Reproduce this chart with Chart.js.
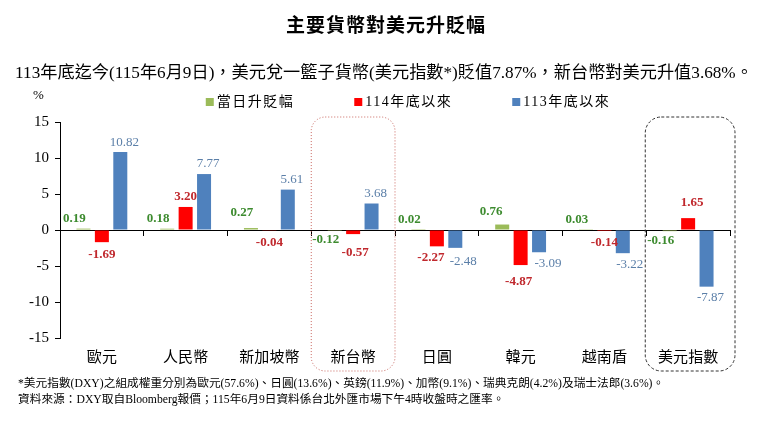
<!DOCTYPE html>
<html>
<head>
<meta charset="utf-8">
<script src="https://cdn.jsdelivr.net/npm/chart.js@4.4.1/dist/chart.umd.min.js"></script>
<style>
    html, body { margin: 0; padding: 0; background: #fff; }
    canvas { display: block; }
</style>
</head>
<body>
<canvas id="chart" width="768" height="432"></canvas>
<script>
    var categories = ["歐元", "人民幣", "新加坡幣", "新台幣", "日圓", "韓元", "越南盾", "美元指數"];
    var seriesNames = ["當日升貶幅", "114年底以來", "113年底以來"];
    var dailyChange = [0.19, 0.18, 0.27, -0.12, 0.02, 0.76, 0.03, -0.16];
    var since114 = [-1.69, 3.20, -0.04, -0.57, -2.27, -4.87, -0.14, 1.65];
    var since113 = [10.82, 7.77, 5.61, 3.68, -2.48, -3.09, -3.22, -7.87];
    var yMin = -15, yMax = 15, yStep = 5;

    var titleText = "主要貨幣對美元升貶幅";
    var subtitleText = "113年底迄今(115年6月9日)，美元兌一籃子貨幣(美元指數*)貶值7.87%，新台幣對美元升值3.68%。";
    var noteLines = [
        "*美元指數(DXY)之組成權重分別為歐元(57.6%)、日圓(13.6%)、英鎊(11.9%)、加幣(9.1%)、瑞典克朗(4.2%)及瑞士法郎(3.6%)。",
        "資料來源：DXY取自Bloomberg報價；115年6月9日資料係台北外匯市場下午4時收盤時之匯率。"
    ];

    var FONT = '"Liberation Serif", "Noto Sans CJK TC", serif';
    var barColors = ["#9bbb59", "#ff0000", "#4f81bd"];
    var labelColors = ["#3d8b2f", "#c0282d", "#5b7fa8"];
    var labelBold = [true, true, false];
    // label nudges per series: dx, gap above (positive), gap below (negative)
    var labelNudge = [[-9, 10, 9], [0, 10, 12], [4, 10, 11]];
    // a few labels moved so they don't collide ("series,index": [dx, dy])
    var labelFix = {
        "1,3": [2, 7], "1,4": [-6, -1], "2,4": [4, 3],
        "1,5": [-2, 5], "2,5": [5, 0], "2,6": [3, 0],
        "0,2": [0, -5], "0,5": [-2, -3], "1,7": [4, -5]
    };

    var pagePlugin = {
        id: "pageTexts",
        beforeDraw: function (chart) {
            var ctx = chart.ctx;
            ctx.save();
            ctx.fillStyle = "#fff";
            ctx.fillRect(0, 0, chart.width, chart.height);
            ctx.restore();
        },
        afterDraw: function (chart) {
            var ctx = chart.ctx;
            ctx.save();
            ctx.fillStyle = "#000";
            ctx.textBaseline = "middle";

            ctx.textAlign = "center";
            ctx.font = "bold 19px " + FONT;
            ctx.letterSpacing = "1px";
            ctx.fillText(titleText, 386, 27);

            ctx.letterSpacing = "0px";
            ctx.font = "17.2px " + FONT;
            ctx.fillText(subtitleText, 384, 73);

            ctx.textAlign = "left";
            ctx.font = "13px " + FONT;
            ctx.fillText("%", 33, 96);

            // legend
            ctx.font = "14px " + FONT;
            ctx.letterSpacing = "1.5px";
            var gap = 60, box = 8, widths = [], total = 0;
            seriesNames.forEach(function (n, i) {
                var w = box + 3 + ctx.measureText(n).width;
                widths.push(w);
                total += w + (i ? gap : 0);
            });
            var x = 408 - total / 2;
            seriesNames.forEach(function (n, i) {
                ctx.fillStyle = barColors[i];
                ctx.fillRect(x, 98, box, box);
                ctx.fillStyle = "#000";
                ctx.fillText(n, x + box + 3, 102);
                x += widths[i] + gap;
            });

            ctx.letterSpacing = "0px";
            ctx.font = "11.7px " + FONT;
            noteLines.forEach(function (line, i) {
                ctx.fillText(line, 18, 384 + i * 16);
            });
            ctx.restore();
        }
    };

    var boxPlugin = {
        id: "highlightBoxes",
        afterDraw: function (chart) {
            var ctx = chart.ctx;
            var xs = chart.scales.x;
            var area = chart.chartArea;
            var half = (xs.getPixelForValue(1) - xs.getPixelForValue(0)) / 2;
            var top = area.top - 5, bottom = area.bottom + 33;
            ctx.save();
            ctx.lineWidth = 1;

            var c = xs.getPixelForValue(3);
            ctx.strokeStyle = "#c9665f";
            ctx.setLineDash([1, 2]);
            ctx.beginPath();
            ctx.roundRect(c - half, top, half * 2, bottom - top, 14);
            ctx.stroke();

            c = xs.getPixelForValue(7);
            ctx.strokeStyle = "#333";
            ctx.setLineDash([3, 2]);
            ctx.beginPath();
            ctx.roundRect(c - half - 1, top, half * 2 + 6, bottom - top, 16);
            ctx.stroke();
            ctx.restore();
        }
    };

    var labelPlugin = {
        id: "valueLabels",
        afterDatasetsDraw: function (chart) {
            var ctx = chart.ctx;
            ctx.save();
            ctx.textAlign = "center";
            ctx.textBaseline = "middle";
            chart.data.datasets.forEach(function (ds, di) {
                var meta = chart.getDatasetMeta(di);
                var nudge = labelNudge[di];
                ctx.font = (labelBold[di] ? "bold " : "") + "13px " + FONT;
                ctx.fillStyle = labelColors[di];
                meta.data.forEach(function (bar, i) {
                    var v = ds.data[i];
                    var fix = labelFix[di + "," + i] || [0, 0];
                    var y = v >= 0 ? bar.y - nudge[1] : bar.y + nudge[2];
                    ctx.fillText(v.toFixed(2), bar.x + nudge[0] + fix[0], y + fix[1]);
                });
            });
            ctx.restore();
        }
    };

    new Chart(document.getElementById("chart"), {
        type: "bar",
        data: {
            labels: categories,
            datasets: [dailyChange, since114, since113].map(function (d, i) {
                return {
                    label: seriesNames[i],
                    data: d,
                    backgroundColor: barColors[i],
                    borderWidth: 0,
                    barPercentage: 0.76,
                    categoryPercentage: 0.66
                };
            })
        },
        options: {
            responsive: false,
            animation: false,
            devicePixelRatio: 1,
            layout: { padding: { top: 122, left: 20, right: 38, bottom: 54 } },
            plugins: {
                legend: { display: false },
                title: { display: false },
                tooltip: { enabled: false }
            },
            scales: {
                x: {
                    position: "bottom",
                    offset: true,
                    grid: { display: false },
                    border: { display: false },
                    ticks: { color: "#000", padding: 3, font: { family: FONT, size: 15 } },
                    afterFit: function (s) { s.height = 40; }
                },
                x0: {
                    type: "category",
                    position: { y: 0 },
                    offset: true,
                    ticks: { display: false },
                    grid: { display: true, offset: true, drawOnChartArea: false, tickLength: 5, color: "#000" },
                    border: { display: true, color: "#000" }
                },
                y: {
                    min: yMin,
                    max: yMax,
                    ticks: { stepSize: yStep, color: "#000", padding: 6, font: { family: FONT, size: 15 } },
                    grid: { drawOnChartArea: false, tickLength: 5, color: "#000" },
                    border: { color: "#000" },
                    afterFit: function (s) { s.width = 40; }
                }
            }
        },
        plugins: [pagePlugin, boxPlugin, labelPlugin]
    });
</script>
</body>
</html>
